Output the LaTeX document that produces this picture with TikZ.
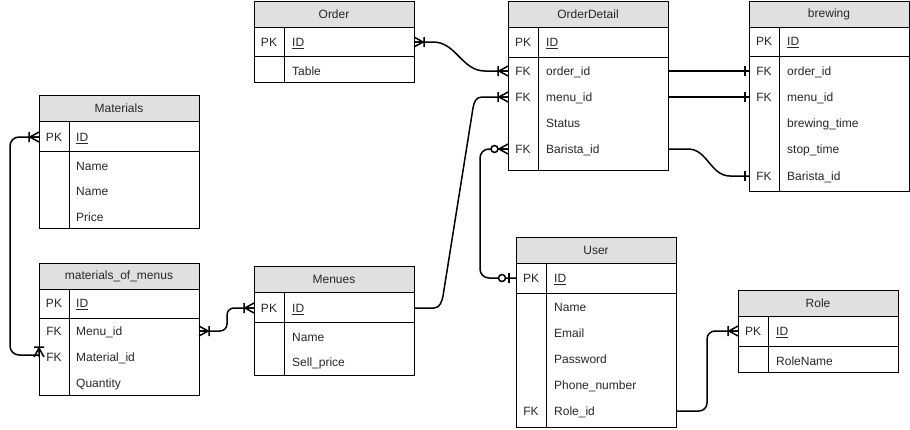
\documentclass[tikz,border=0pt]{standalone}
\usepackage{fontspec}
\setmainfont{Liberation Sans}
\usetikzlibrary{positioning}
\definecolor{headgray}{RGB}{224,224,224}
\definecolor{txtgray}{RGB}{40,40,40}

\tikzset{
  tblhead/.style={draw, fill=headgray, minimum width=160pt, minimum height=26pt, inner sep=0pt, outer sep=0pt, font=\fontsize{12}{14}\selectfont, text=txtgray},
  tblbody/.style={draw, fill=white, minimum width=160pt, inner sep=0pt, outer sep=0pt},
  keycol/.style={font=\fontsize{12}{14}\selectfont, text=txtgray, inner sep=0pt, text height=8.6pt, text depth=0pt},
  fld/.style={keycol, anchor=west},
  rel/.style={line width=1.5pt},
  manymark/.pic={\draw[rel] (0,-5) -- (-9,0) -- (0,5) (-9,0) -- (0,0) (-10,-5) -- (-10,5);},
  zeromany/.pic={\draw[rel] (0,-5) -- (-9,0) -- (0,5) (-9,0) -- (0,0); \draw[rel, fill=white] (-13.5,0) circle (3.5);},
  zeroone/.pic={\draw[rel] (-7,-5) -- (-7,5); \draw[rel, fill=white] (-14,0) circle (3.5);},
  onemark/.pic={\draw[rel] (-4,-5) -- (-4,5);}
}

\begin{document}
\begin{tikzpicture}[x=1pt, y=-1pt]
  \useasboundingbox (0,0) rectangle (910,429);

  %%% Order
  \node[tblhead] (order) at (334,14) {Order};
  \node[tblbody, minimum height=55pt, below=0pt of order] (orderb) {};
  \draw (orderb.west |- 0,56) -- (orderb.east |- 0,56);
  \draw ([xshift=30pt]orderb.north west) -- ([xshift=30pt]orderb.south west);
  \node[keycol] (o-pk) at (269,42) {PK};
  \node[fld] (o-id) at (292,42) {\underline{ID}};
  \node[fld] (o-table) at (292,71) {Table};

  %%% OrderDetail
  \node[tblhead] (od) at (588,14) {OrderDetail};
  \node[tblbody, minimum height=143pt, below=0pt of od] (odb) {};
  \draw (odb.west |- 0,57) -- (odb.east |- 0,57);
  \draw ([xshift=30pt]odb.north west) -- ([xshift=30pt]odb.south west);
  \node[keycol] (od-pk) at (523,42) {PK};
  \node[keycol] (od-fk1) at (523,71) {FK};
  \node[keycol] (od-fk2) at (523,97) {FK};
  \node[keycol] (od-fk3) at (523,149) {FK};
  \node[fld] (od-id) at (546,42) {\underline{ID}};
  \node[fld] (od-order) at (546,71) {order\_id};
  \node[fld] (od-menu) at (546,97) {menu\_id};
  \node[fld] (od-status) at (546,123) {Status};
  \node[fld] (od-barista) at (546,149) {Barista\_id};

  %%% brewing
  \node[tblhead] (brew) at (829,14) {brewing};
  \node[tblbody, minimum height=164pt, below=0pt of brew] (brewb) {};
  \draw (brewb.west |- 0,56) -- (brewb.east |- 0,56);
  \draw ([xshift=30pt]brewb.north west) -- ([xshift=30pt]brewb.south west);
  \node[keycol] (br-pk) at (764,41) {PK};
  \node[keycol] (br-fk1) at (764,71) {FK};
  \node[keycol] (br-fk2) at (764,97) {FK};
  \node[keycol] (br-fk3) at (764,176) {FK};
  \node[fld] (br-id) at (787,41) {\underline{ID}};
  \node[fld] (br-order) at (787,71) {order\_id};
  \node[fld] (br-menu) at (787,97) {menu\_id};
  \node[fld] (br-brewtime) at (787,123) {brewing\_time};
  \node[fld] (br-stoptime) at (787,149) {stop\_time};
  \node[fld] (br-barista) at (787,176) {Barista\_id};

  %%% Materials
  \node[tblhead] (mat) at (119,108) {Materials};
  \node[tblbody, minimum height=107pt, below=0pt of mat] (matb) {};
  \draw (matb.west |- 0,151) -- (matb.east |- 0,151);
  \draw ([xshift=30pt]matb.north west) -- ([xshift=30pt]matb.south west);
  \node[keycol] (mat-pk) at (54,137) {PK};
  \node[fld] (mat-id) at (76,137) {\underline{ID}};
  \node[fld] (mat-name1) at (76,166) {Name};
  \node[fld] (mat-name2) at (76,191) {Name};
  \node[fld] (mat-price) at (76,217) {Price};

  %%% materials_of_menus
  \node[tblhead] (mom) at (119,276) {materials\_of\_menus};
  \node[tblbody, minimum height=106pt, below=0pt of mom] (momb) {};
  \draw (momb.west |- 0,318) -- (momb.east |- 0,318);
  \draw ([xshift=30pt]momb.north west) -- ([xshift=30pt]momb.south west);
  \node[keycol] (mom-pk) at (54,303) {PK};
  \node[keycol] (mom-fk1) at (54,331) {FK};
  \node[keycol] (mom-fk2) at (54,357) {FK};
  \node[fld] (mom-id) at (76,303) {\underline{ID}};
  \node[fld] (mom-menu) at (76,331) {Menu\_id};
  \node[fld] (mom-mat) at (76,357) {Material\_id};
  \node[fld] (mom-qty) at (76,383) {Quantity};

  %%% Menues
  \node[tblhead] (men) at (334,279) {Menues};
  \node[tblbody, minimum height=83pt, below=0pt of men] (menb) {};
  \draw (menb.west |- 0,322) -- (menb.east |- 0,322);
  \draw ([xshift=30pt]menb.north west) -- ([xshift=30pt]menb.south west);
  \node[keycol] (men-pk) at (269,308) {PK};
  \node[fld] (men-id) at (292,308) {\underline{ID}};
  \node[fld] (men-name) at (292,337) {Name};
  \node[fld] (men-price) at (292,362) {Sell\_price};

  %%% User
  \node[tblhead] (user) at (596,250) {User};
  \node[tblbody, minimum height=164pt, below=0pt of user] (userb) {};
  \draw (userb.west |- 0,293) -- (userb.east |- 0,293);
  \draw ([xshift=30pt]userb.north west) -- ([xshift=30pt]userb.south west);
  \node[keycol] (u-pk) at (531,278) {PK};
  \node[keycol] (u-fk) at (531,411) {FK};
  \node[fld] (u-id) at (554,278) {\underline{ID}};
  \node[fld] (u-name) at (554,307) {Name};
  \node[fld] (u-email) at (554,333) {Email};
  \node[fld] (u-pass) at (554,359) {Password};
  \node[fld] (u-phone) at (554,385) {Phone\_number};
  \node[fld] (u-role) at (554,411) {Role\_id};

  %%% Role
  \node[tblhead] (role) at (818,303) {Role};
  \node[tblbody, minimum height=56pt, below=0pt of role] (roleb) {};
  \draw (roleb.west |- 0,346) -- (roleb.east |- 0,346);
  \draw ([xshift=30pt]roleb.north west) -- ([xshift=30pt]roleb.south west);
  \node[keycol] (r-pk) at (753,331) {PK};
  \node[fld] (r-id) at (776,331) {\underline{ID}};
  \node[fld] (r-name) at (776,361) {RoleName};

  %%% relations
  \draw[rel] (orderb.east |- o-id) -- ++(19,0) to[out=0, in=180] ++(52,29) -- (odb.west |- od-order);
  \draw[rel] (menb.east |- men-id) -- ++(20,0) .. controls +(6,0) and +(-1,5) .. ++(9,-12)
    -- ++(30,-188) .. controls +(1,-6) and +(-6,0) .. ++(9,-11) -- (odb.west |- od-menu);
  \draw[rel, rounded corners=9pt] (odb.west |- od-barista) -- ++(-28,0) |- (userb.west |- u-id);
  \draw[rel] (odb.east |- od-order) -- (brewb.west |- br-order);
  \draw[rel] (odb.east |- od-menu) -- (brewb.west |- br-menu);
  \draw[rel] (odb.east |- od-barista) -- ++(20,0) to[out=0, in=180] ++(42,27) -- (brewb.west |- br-barista);
  \draw[rel, rounded corners=9pt] (matb.west |- mat-id) -- ++(-29,0) |- ([yshift=2pt]momb.west |- mom-mat);
  \draw[rel, rounded corners=7pt] (momb.east |- mom-menu) -- ++(28,0) |- (menb.west |- men-id);
  \draw[rel, rounded corners=8pt] (userb.east |- u-role) -- ++(31,0) |- (roleb.west |- r-id);

  %%% ends
  \pic[rotate=180] at (orderb.east |- o-id) {manymark};
  \pic at (odb.west |- od-order) {manymark};
  \pic at (odb.west |- od-menu) {manymark};
  \pic at (odb.west |- od-barista) {zeromany};
  \pic at (userb.west |- u-id) {zeroone};
  \pic at (brewb.west |- br-order) {onemark};
  \pic at (brewb.west |- br-menu) {onemark};
  \pic at (brewb.west |- br-barista) {onemark};
  \pic at (matb.west |- mat-id) {manymark};
  \pic[rotate=-90] at (momb.west |- mom-mat) {manymark};
  \pic[rotate=180] at (momb.east |- mom-menu) {manymark};
  \pic at (menb.west |- men-id) {manymark};
  \pic at (roleb.west |- r-id) {manymark};
\end{tikzpicture}
\end{document}
